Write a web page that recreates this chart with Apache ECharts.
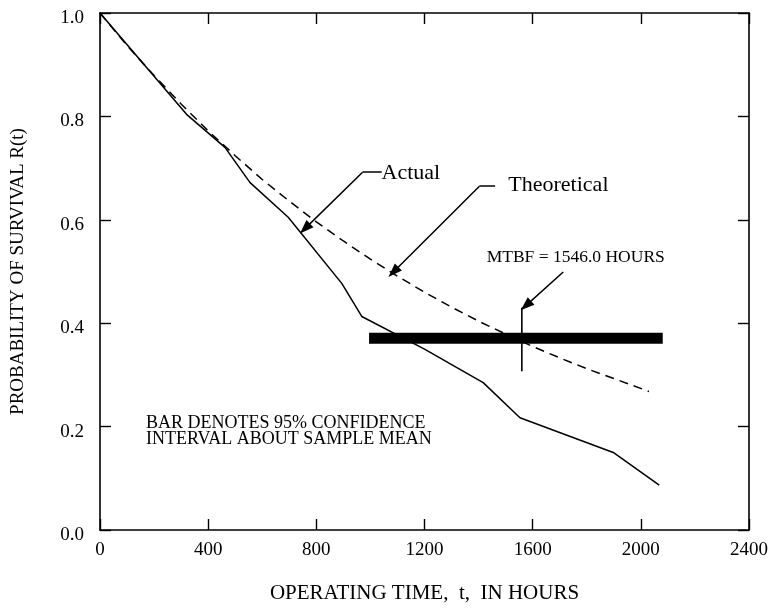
<!DOCTYPE html>
<html>
<head>
<meta charset="utf-8">
<script src="https://cdn.jsdelivr.net/npm/echarts@6/dist/echarts.min.js"></script>
<style>
  html, body { margin: 0; padding: 0; background: #fff; }
  #chart { width: 771px; height: 609px; }
</style>
</head>
<body>
<div id="chart"></div>
<script>
// ---- data ----
var actualT = [0, 320, 462, 555, 696, 894, 968, 1200, 1417, 1553, 1898, 2068];
var actualR = [1.0, 0.804, 0.74, 0.672, 0.605, 0.477, 0.413, 0.35, 0.285, 0.217, 0.15, 0.087];

var theoT = [0, 100, 200, 300, 400, 500, 600, 700, 800, 900, 1000, 1100, 1200, 1300, 1400, 1500, 1600, 1700, 1800, 1900, 2030];
var theoR = [1.0, 0.937, 0.879, 0.824, 0.772, 0.724, 0.678, 0.636, 0.596, 0.559, 0.524, 0.491, 0.460, 0.431, 0.404, 0.379, 0.355, 0.333, 0.312, 0.293, 0.268];

var confBarT = [995, 2081];     // 95% confidence interval
var confBarR = 0.371;
var mtbfT = 1560;
var mtbfLineR = [0.307, 0.430];

var xTicks = [0, 400, 800, 1200, 1600, 2000, 2400];
var yTicks = [0.0, 0.2, 0.4, 0.6, 0.8, 1.0];

var FONT = '"Liberation Serif", "Times New Roman", serif';

function pairs(xs, ys) { return xs.map(function (x, i) { return [x, ys[i]]; }); }

var chart = echarts.init(document.getElementById('chart'), null, { renderer: 'canvas' });

function axisBase() {
  return {
    type: 'value',
    axisLine: { show: true, onZero: false, lineStyle: { color: '#000', width: 1.6 } },
    axisTick: { show: true, inside: true, length: 11, lineStyle: { color: '#000', width: 1.4 } },
    splitLine: { show: false }
  };
}

var option = {
  animation: false,
  backgroundColor: '#fff',
  grid: { left: 100, right: 22, top: 13, bottom: 76, containLabel: false },
  xAxis: [
    Object.assign(axisBase(), {
      min: xTicks[0], max: xTicks[xTicks.length - 1], interval: 400, position: 'bottom',
      axisLabel: { color: '#000', fontFamily: FONT, fontSize: 19, margin: 11,
        formatter: function (v) { return String(v); } },
      name: 'OPERATING TIME,  t,  IN HOURS',
      nameLocation: 'middle', nameGap: 53,
      nameTextStyle: { color: '#000', fontFamily: FONT, fontSize: 21 }
    }),
    Object.assign(axisBase(), {
      min: xTicks[0], max: xTicks[xTicks.length - 1], interval: 400, position: 'top',
      axisLabel: { show: false }
    })
  ],
  yAxis: [
    Object.assign(axisBase(), {
      min: yTicks[0], max: yTicks[yTicks.length - 1], interval: 0.2, position: 'left',
      axisLabel: {
        color: '#000', fontFamily: FONT, fontSize: 19, margin: 16,
        verticalAlign: 'top', lineHeight: 10,
        formatter: function (v) { return v.toFixed(1); }
      },
      name: 'PROBABILITY OF SURVIVAL R(t)',
      nameLocation: 'middle', nameGap: 72, nameRotate: 90,
      nameTextStyle: { color: '#000', fontFamily: FONT, fontSize: 19 }
    }),
    Object.assign(axisBase(), {
      min: yTicks[0], max: yTicks[yTicks.length - 1], interval: 0.2, position: 'right',
      axisLabel: { show: false }
    })
  ],
  series: [
    {
      name: 'Actual', type: 'line', data: pairs(actualT, actualR),
      symbol: 'none', lineStyle: { color: '#000', width: 1.5 }, z: 3
    },
    {
      name: 'Theoretical', type: 'line', data: pairs(theoT, theoR),
      symbol: 'none', lineStyle: { color: '#000', width: 1.5, type: [9, 6] }, z: 3
    },
    {
      name: 'Confidence', type: 'line',
      data: [[confBarT[0], confBarR], [confBarT[1], confBarR]],
      symbol: 'none', lineStyle: { color: '#000', width: 11, cap: 'butt' }, z: 4
    },
    {
      name: 'MTBF', type: 'line',
      data: [[mtbfT, mtbfLineR[0]], [mtbfT, mtbfLineR[1]]],
      symbol: 'none', lineStyle: { color: '#000', width: 1.6 }, z: 5
    },
    {
      name: 'leaders', type: 'line', data: [],
      markLine: {
        silent: true, animation: false,
        label: { show: false },
        lineStyle: { color: '#000', width: 1.5, type: 'solid' },
        symbol: ['none', 'triangle'],
        symbolSize: [10, 14],
        data: [
          [{ coord: [1042, 0.692], symbol: 'none' }, { coord: [971, 0.692], symbol: 'none' }],
          [{ coord: [971, 0.692] }, { coord: [758, 0.583] }],
          [{ coord: [1461, 0.665], symbol: 'none' }, { coord: [1403, 0.665], symbol: 'none' }],
          [{ coord: [1403, 0.665] }, { coord: [1085, 0.499] }],
          [{ coord: [1713, 0.499] }, { coord: [1575, 0.434] }]
        ]
      }
    }
  ]
};
chart.setOption(option);

function px(t, r) { return chart.convertToPixel({ xAxisIndex: 0, yAxisIndex: 0 }, [t, r]); }

var labels = [
  { text: 'Actual', at: [1041, 0.690], size: 22 },
  { text: 'Theoretical', at: [1510, 0.667], size: 22 },
  { text: 'MTBF = 1546.0 HOURS', at: [1430, 0.527], size: 17.5 },
  { text: 'BAR DENOTES 95% CONFIDENCE', at: [170, 0.207], size: 18 },
  { text: 'INTERVAL ABOUT SAMPLE MEAN', at: [170, 0.176], size: 18 }
];
chart.setOption({
  graphic: labels.map(function (l) {
    var p = px(l.at[0], l.at[1]);
    return {
      type: 'text', x: p[0], y: p[1], z: 10,
      style: { text: l.text, fill: '#000', font: l.size + 'px ' + FONT, textAlign: 'left', textVerticalAlign: 'middle' }
    };
  })
});
</script>
</body>
</html>
